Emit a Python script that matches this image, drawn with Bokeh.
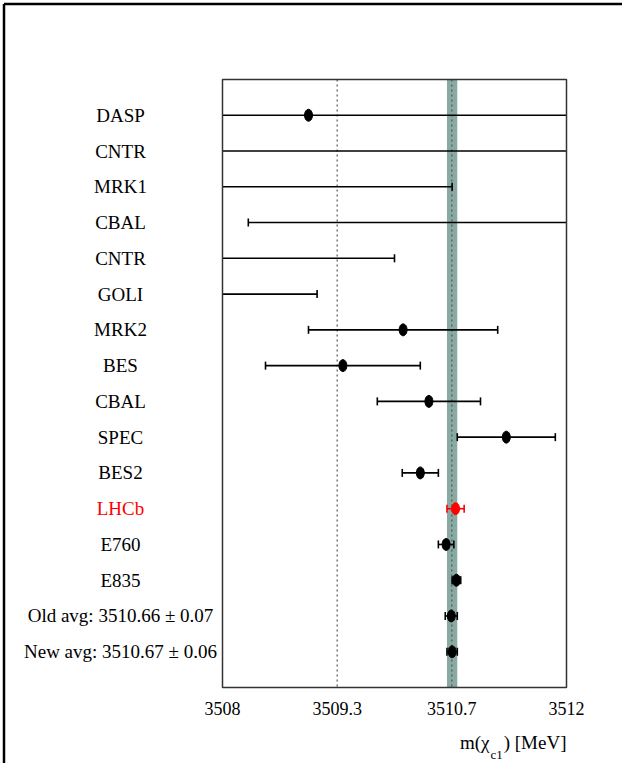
import math
from bokeh.plotting import figure
from bokeh.models import Range1d, ColumnDataSource
from bokeh.core.properties import value
from bokeh.embed import file_html
from bokeh.resources import INLINE

# ---------------- data ----------------
labels = ["DASP", "CNTR", "MRK1", "CBAL", "CNTR", "GOLI", "MRK2", "BES", "CBAL",
          "SPEC", "BES2", "LHCb", "E760", "E835",
          "Old avg: 3510.66 \u00b1 0.07", "New avg: 3510.67 \u00b1 0.06"]
values = [3509.0, 3507.0, 3507.0, 3512.3, 3505.5, 3507.0, 3510.1, 3509.4, 3510.4,
          3511.3, 3510.3, 3510.71, 3510.60, 3510.72, 3510.66, 3510.67]
errors = [4.0, 6.0, 3.67, 4.0, 4.5, 2.1, 1.1, 0.9, 0.6,
          0.57, 0.21, 0.10, 0.09, 0.05, 0.07, 0.06]
colors = ["black"] * 11 + ["red"] + ["black"] * 4
tick_values = [3508.0, 3508.0 + 4.0 / 3.0, 3508.0 + 8.0 / 3.0, 3512.0]
tick_labels = ["3508", "3509.3", "3510.7", "3512"]
x_min, x_max = 3508.0, 3512.0
band_center, band_half = values[-1], errors[-1]

# ---------------- layout (pixel geometry of the plot box) ----------------
W, H = 622, 763
FL, FR, FT, FB = 222, 566, 79, 687
n = len(labels)
rows = list(range(1, n + 1))
ROW = (FB - FT) / (n + 1)

def px_to_x(px):
    return x_min + (px - FL) * (x_max - x_min) / (FR - FL)

def py_to_y(py):
    return (py - FT) / ROW

p = figure(width=W, height=H, output_backend="svg", toolbar_location=None,
           x_range=Range1d(px_to_x(0), px_to_x(W)),
           y_range=Range1d(py_to_y(H), py_to_y(0)),
           x_axis_type=None, y_axis_type=None, min_border=0,
           background_fill_color="white", border_fill_color="white")
p.outline_line_color = None
p.xgrid.visible = False
p.ygrid.visible = False

SERIF = value("Liberation Serif")

# band of the new average
p.quad(left=[band_center - band_half], right=[band_center + band_half],
       top=[0], bottom=[n + 1], fill_color="#88aaa2", line_color=None)

# dotted lines at the interior ticks
inner = tick_values[1:-1]
p.segment(x0=inner, x1=inner, y0=[0] * len(inner), y1=[n + 1] * len(inner),
          line_color="#555555", line_dash="2 3", line_width=1.2)

# error bars clipped to the plot box
lo = [v - e for v, e in zip(values, errors)]
hi = [v + e for v, e in zip(values, errors)]
bar = ColumnDataSource(dict(y=rows, x0=[max(a, x_min) for a in lo],
                            x1=[min(b, x_max) for b in hi], c=colors))
p.segment(x0="x0", x1="x1", y0="y", y1="y", line_color="c", line_width=1.6, source=bar)

caps_x, caps_y, caps_c = [], [], []
for a, b, r, c in zip(lo, hi, rows, colors):
    for xv in (a, b):
        if x_min <= xv <= x_max:
            caps_x.append(xv); caps_y.append(r); caps_c.append(c)
p.scatter(x=caps_x, y=caps_y, marker="dash", size=8, angle=math.pi / 2,
          line_color=caps_c, line_width=1.6)

pts = [(v, r, c) for v, r, c in zip(values, rows, colors) if x_min <= v <= x_max]
p.ellipse(x=[t[0] for t in pts], y=[t[1] for t in pts], width=8, height=12,
          width_units="screen", height_units="screen",
          fill_color=[t[2] for t in pts], line_color=[t[2] for t in pts])

# plot box
p.quad(left=[x_min], right=[x_max], top=[0], bottom=[n + 1],
       fill_color=None, line_color="#333333", line_width=1.5)

# row labels
p.text(x=[px_to_x(120)] * n, y=rows, text=labels, text_color=colors,
       text_align="center", text_baseline="middle",
       text_font=SERIF, text_font_size="19px")

# tick labels
p.text(x=tick_values, y=[py_to_y(708)] * len(tick_values), text=tick_labels,
       text_align="center", text_baseline="middle", text_color="black",
       text_font=SERIF, text_font_size="18px")

# axis title m(chi_c1) [MeV]
p.text(x=[px_to_x(566)], y=[py_to_y(742)], text=[") [MeV]"], text_align="right",
       text_baseline="alphabetic", text_font=SERIF, text_font_size="19px",
       text_color="black")
p.text(x=[px_to_x(490)], y=[py_to_y(754)], text=["c1"], text_align="left",
       text_baseline="alphabetic", text_font=SERIF, text_font_size="13px",
       text_color="black")
p.text(x=[px_to_x(489)], y=[py_to_y(742)], text=["m(\u03c7"], text_align="right",
       text_baseline="alphabetic", text_font=SERIF, text_font_size="19px",
       text_color="black")

# outer frame lines of the picture (left and top)
p.segment(x0=[px_to_x(3.5), px_to_x(3.5)], x1=[px_to_x(3.5), px_to_x(W + 5)],
          y0=[py_to_y(3.5), py_to_y(3.5)], y1=[py_to_y(H + 5), py_to_y(3.5)],
          line_color="black", line_width=2.5)

open("out.html", "w").write(file_html(p, INLINE))
